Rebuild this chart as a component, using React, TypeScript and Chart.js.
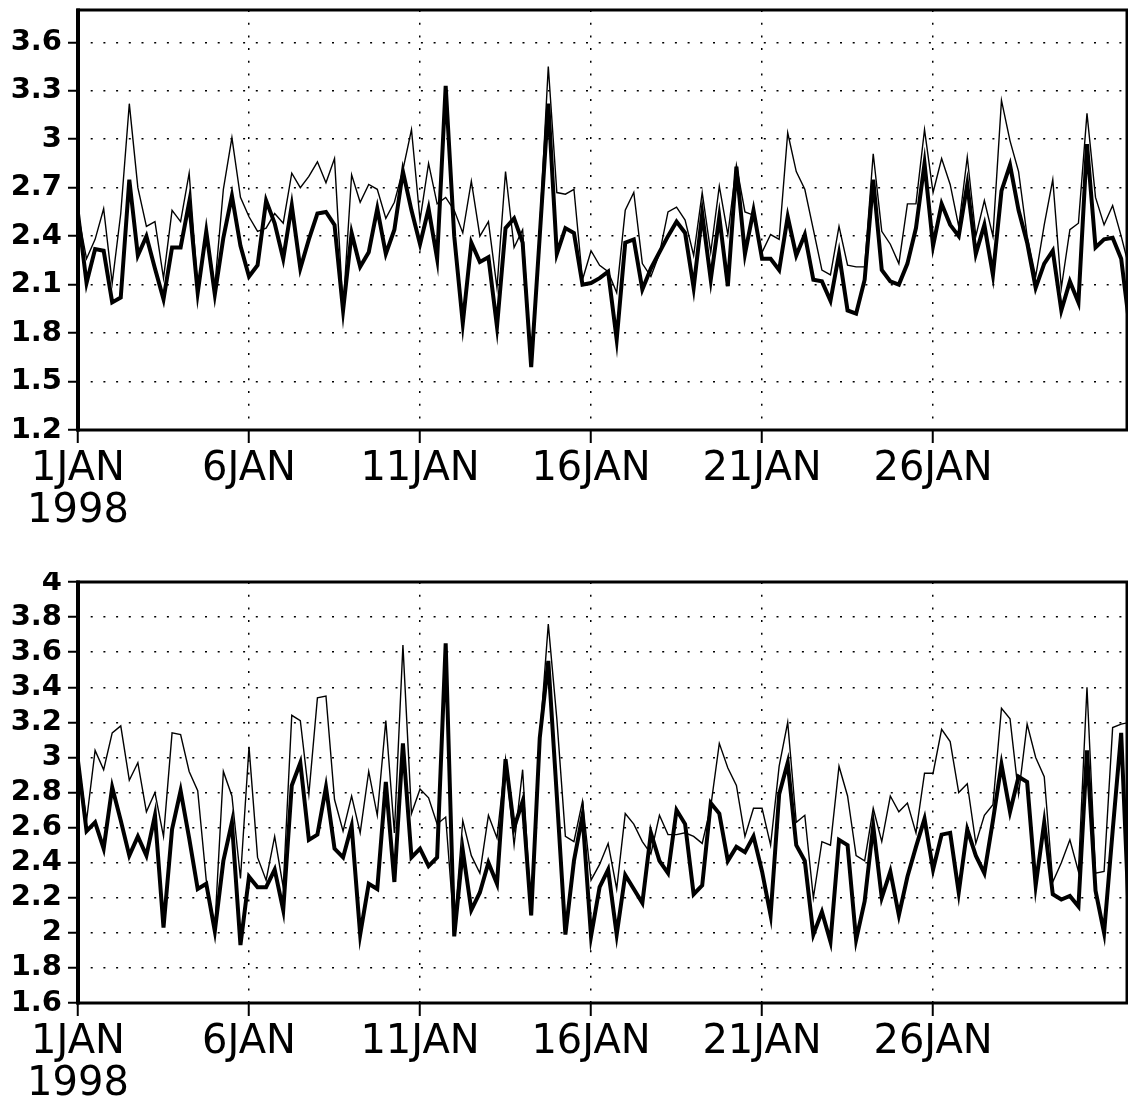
import React, { useEffect, useRef } from "react";
import { Chart, registerables } from "chart.js";

Chart.register(...registerables);

// ---- time axis (6-hourly, days since 1 JAN 1998 00Z) ----
const POINTS_PER_DAY = 4;
const X_MAX_DAYS = 30.67;
const xTickDays = [0, 5, 10, 15, 20, 25];
const xTickLabels: (string | string[])[] = [["1JAN", "1998"], "6JAN", "11JAN", "16JAN", "21JAN", "26JAN"];

// ---- top panel ----
const topYTicks = [1.2, 1.5, 1.8, 2.1, 2.4, 2.7, 3.0, 3.3, 3.6];
const topYLabels = ["1.2", "1.5", "1.8", "2.1", "2.4", "2.7", "3", "3.3", "3.6"];
const topThin = [
  2.54, 2.26, 2.38, 2.57, 2.11, 2.54, 3.22, 2.70, 2.46, 2.49, 2.14, 2.56, 2.49, 2.79, 2.08, 2.43,
  2.09, 2.69, 3.01, 2.64, 2.52, 2.43, 2.45, 2.54, 2.48, 2.79, 2.70, 2.77, 2.86, 2.73, 2.88, 1.95,
  2.78, 2.61, 2.72, 2.69, 2.51, 2.61, 2.81, 3.06, 2.50, 2.85, 2.60, 2.64, 2.56, 2.42, 2.74, 2.40,
  2.49, 2.08, 2.80, 2.33, 2.44, 1.62, 2.45, 3.45, 2.67, 2.66, 2.69, 2.13, 2.31, 2.22, 2.18, 2.05,
  2.56, 2.67, 2.23, 2.15, 2.29, 2.55, 2.58, 2.50, 2.28, 2.67, 2.30, 2.71, 2.41, 2.84, 2.55, 2.53,
  2.30, 2.41, 2.38, 3.04, 2.80, 2.69, 2.44, 2.19, 2.16, 2.46, 2.22, 2.21, 2.21, 2.91, 2.43, 2.35,
  2.23, 2.60, 2.60, 3.06, 2.67, 2.88, 2.72, 2.46, 2.89, 2.40, 2.62, 2.40, 3.24, 2.99, 2.80, 2.40,
  2.15, 2.47, 2.75, 2.08, 2.44, 2.48, 3.16, 2.64, 2.47, 2.59, 2.40, 2.19,
];
const topThick = [
  2.54, 2.11, 2.32, 2.31, 1.99, 2.02, 2.75, 2.28, 2.40, 2.20, 2.01, 2.33, 2.33, 2.61, 2.05, 2.43,
  2.04, 2.39, 2.65, 2.34, 2.15, 2.22, 2.62, 2.48, 2.26, 2.59, 2.20, 2.38, 2.54, 2.55, 2.47, 1.94,
  2.42, 2.21, 2.30, 2.57, 2.29, 2.44, 2.80, 2.56, 2.35, 2.57, 2.26, 3.33, 2.40, 1.86, 2.36, 2.24,
  2.27, 1.84, 2.45, 2.51, 2.36, 1.59, 2.40, 3.22, 2.29, 2.45, 2.42, 2.10, 2.11, 2.14, 2.18, 1.76,
  2.36, 2.38, 2.07, 2.20, 2.30, 2.40, 2.49, 2.42, 2.08, 2.54, 2.13, 2.52, 2.09, 2.83, 2.29, 2.56,
  2.26, 2.26, 2.19, 2.52, 2.28, 2.41, 2.13, 2.12, 2.00, 2.29, 1.94, 1.92, 2.13, 2.75, 2.19, 2.12,
  2.10, 2.23, 2.45, 2.85, 2.34, 2.60, 2.47, 2.40, 2.72, 2.29, 2.47, 2.16, 2.68, 2.84, 2.56, 2.36,
  2.08, 2.23, 2.31, 1.94, 2.12, 1.99, 2.97, 2.33, 2.38, 2.39, 2.26, 1.83,
];

// ---- bottom panel ----
const botYTicks = [1.6, 1.8, 2.0, 2.2, 2.4, 2.6, 2.8, 3.0, 3.2, 3.4, 3.6, 3.8, 4.0];
const botYLabels = ["1.6", "1.8", "2", "2.2", "2.4", "2.6", "2.8", "3", "3.2", "3.4", "3.6", "3.8", "4"];
const botThin = [
  2.99, 2.64, 3.04, 2.93, 3.14, 3.18, 2.87, 2.97, 2.69, 2.80, 2.55, 3.14, 3.13, 2.92, 2.81, 2.30,
  2.03, 2.92, 2.78, 2.31, 3.06, 2.43, 2.30, 2.55, 2.26, 3.24, 3.21, 2.79, 3.34, 3.35, 2.76, 2.58,
  2.78, 2.57, 2.92, 2.67, 3.21, 2.57, 3.64, 2.68, 2.82, 2.77, 2.62, 2.66, 2.02, 2.64, 2.44, 2.34,
  2.67, 2.54, 2.99, 2.50, 2.93, 2.10, 3.11, 3.76, 3.22, 2.55, 2.52, 2.75, 2.30, 2.39, 2.51, 2.25,
  2.68, 2.62, 2.52, 2.45, 2.67, 2.56, 2.56, 2.57, 2.55, 2.51, 2.72, 3.08, 2.94, 2.84, 2.55, 2.71,
  2.71, 2.50, 2.95, 3.20, 2.63, 2.67, 2.20, 2.52, 2.50, 2.95, 2.78, 2.44, 2.41, 2.71, 2.52, 2.78,
  2.69, 2.74, 2.57, 2.91, 2.91, 3.16, 3.09, 2.80, 2.85, 2.51, 2.67, 2.73, 3.28, 3.22, 2.79, 3.19,
  3.00, 2.89, 2.29, 2.40, 2.53, 2.35, 3.40, 2.34, 2.35, 3.17, 3.19, 3.20,
];
const botThick = [
  2.98, 2.58, 2.63, 2.48, 2.83, 2.64, 2.44, 2.55, 2.44, 2.67, 2.03, 2.59, 2.81, 2.54, 2.25, 2.28,
  2.01, 2.41, 2.63, 1.93, 2.32, 2.26, 2.26, 2.36, 2.13, 2.84, 2.97, 2.53, 2.56, 2.83, 2.48, 2.43,
  2.61, 1.99, 2.28, 2.25, 2.86, 2.29, 3.08, 2.43, 2.48, 2.38, 2.43, 3.65, 1.98, 2.47, 2.13, 2.23,
  2.40, 2.28, 2.99, 2.60, 2.75, 2.10, 3.11, 3.55, 2.78, 1.99, 2.41, 2.67, 1.98, 2.26, 2.36, 1.99,
  2.33, 2.25, 2.17, 2.57, 2.41, 2.34, 2.70, 2.62, 2.22, 2.27, 2.74, 2.68, 2.41, 2.49, 2.46, 2.55,
  2.35, 2.10, 2.79, 2.97, 2.50, 2.41, 1.99, 2.12, 1.95, 2.53, 2.50, 1.96, 2.18, 2.61, 2.20, 2.35,
  2.10, 2.32, 2.49, 2.65, 2.36, 2.56, 2.57, 2.23, 2.59, 2.44, 2.34, 2.64, 2.96, 2.69, 2.89, 2.86,
  2.27, 2.63, 2.22, 2.19, 2.21, 2.15, 3.04, 2.24, 2.00, 2.58, 3.14, 1.97,
];

const FONT = "'DejaVu Sans', 'Liberation Sans', sans-serif";

const framePlugin = {
  id: "gradsFrame",
  afterDatasetsDraw(chart: any) {
    const { ctx, chartArea } = chart;
    const { left, top, right, bottom } = chartArea;
    ctx.save();
    ctx.strokeStyle = "#000";
    ctx.lineWidth = 3;
    ctx.strokeRect(left, top, right - left, bottom - top);
    ctx.lineWidth = 4;
    ctx.beginPath();
    ctx.moveTo(left, top - 1.5);
    ctx.lineTo(left, bottom + 1.5);
    ctx.stroke();
    ctx.restore();
  },
};

type PanelProps = {
  thin: number[];
  thick: number[];
  yMin: number;
  yMax: number;
  yTicks: number[];
  yLabels: string[];
  top: number;
  height: number;
  padTop: number;
  xHeight: number;
};

function Panel({ thin, thick, yMin, yMax, yTicks, yLabels, top, height, padTop, xHeight }: PanelProps) {
  const ref = useRef<HTMLCanvasElement>(null);
  useEffect(() => {
    const toPts = (arr: number[]) => arr.map((v, i) => ({ x: i / POINTS_PER_DAY, y: v }));
    const chart = new Chart(ref.current as HTMLCanvasElement, {
      type: "line",
      data: {
        datasets: [
          {
            data: toPts(thin),
            borderColor: "#000",
            borderWidth: 1.4,
            pointRadius: 0,
            tension: 0,
            clip: 0,
          } as any,
          {
            data: toPts(thick),
            borderColor: "#000",
            borderWidth: 4,
            pointRadius: 0,
            tension: 0,
            clip: 0,
          } as any,
        ],
      },
      options: {
        animation: false,
        responsive: false,
        devicePixelRatio: 1,
        events: [],
        layout: { padding: { top: padTop, right: 1, left: 0, bottom: 0 } },
        plugins: { legend: { display: false }, tooltip: { enabled: false }, title: { display: false } },
        scales: {
          x: {
            type: "linear",
            min: 0,
            max: X_MAX_DAYS,
            afterBuildTicks: (scale: any) => {
              scale.ticks = xTickDays.map((v) => ({ value: v }));
            },
            afterFit: (scale: any) => {
              scale.height = xHeight;
              scale.paddingLeft = 0;
              scale.paddingRight = 0;
            },
            grid: {
              color: "#000",
              lineWidth: 1.5,
              drawTicks: true,
              tickLength: 13,
              tickWidth: 2,
              tickColor: "#000",
              tickBorderDash: [],
            },
            border: { display: false, dash: [2, 10.7] },
            ticks: {
              autoSkip: false,
              maxRotation: 0,
              minRotation: 0,
              color: "#000",
              padding: 6,
              font: { family: FONT, size: 40, lineHeight: 1.05 },
              callback: (_v: any, i: number) => xTickLabels[i],
            },
          },
          y: {
            type: "linear",
            min: yMin,
            max: yMax,
            afterBuildTicks: (scale: any) => {
              scale.ticks = yTicks.map((v) => ({ value: v }));
            },
            afterFit: (scale: any) => {
              scale.width = 78;
              scale.paddingTop = 0;
              scale.paddingBottom = 0;
            },
            grid: {
              color: "#000",
              lineWidth: 1.5,
              drawTicks: true,
              tickLength: 10,
              tickWidth: 2,
              tickColor: "#000",
              tickBorderDash: [],
            },
            border: { display: false, dash: [2, 10.7] },
            ticks: {
              autoSkip: false,
              color: "#000",
              padding: 6,
              font: { family: FONT, size: 29, weight: "bold" },
              callback: (_v: any, i: number) => yLabels[i],
            },
          },
        },
      } as any,
      plugins: [framePlugin],
    });
    return () => chart.destroy();
  }, []);
  return (
    <canvas
      ref={ref}
      width={1128}
      height={height}
      style={{ position: "absolute", left: 0, top, width: 1128, height, display: "block" }}
    />
  );
}

export default function App() {
  return (
    <div style={{ position: "absolute", left: 0, top: 0, width: 1128, height: 1106, background: "#fff", overflow: "hidden" }}>
      <Panel thin={topThin} thick={topThick} yMin={1.2} yMax={3.8} yTicks={topYTicks} yLabels={topYLabels}
        top={0} height={560} padTop={10} xHeight={130} />
      <Panel thin={botThin} thick={botThick} yMin={1.6} yMax={4.0} yTicks={botYTicks} yLabels={botYLabels}
        top={572} height={534} padTop={10} xHeight={103} />
    </div>
  );
}
